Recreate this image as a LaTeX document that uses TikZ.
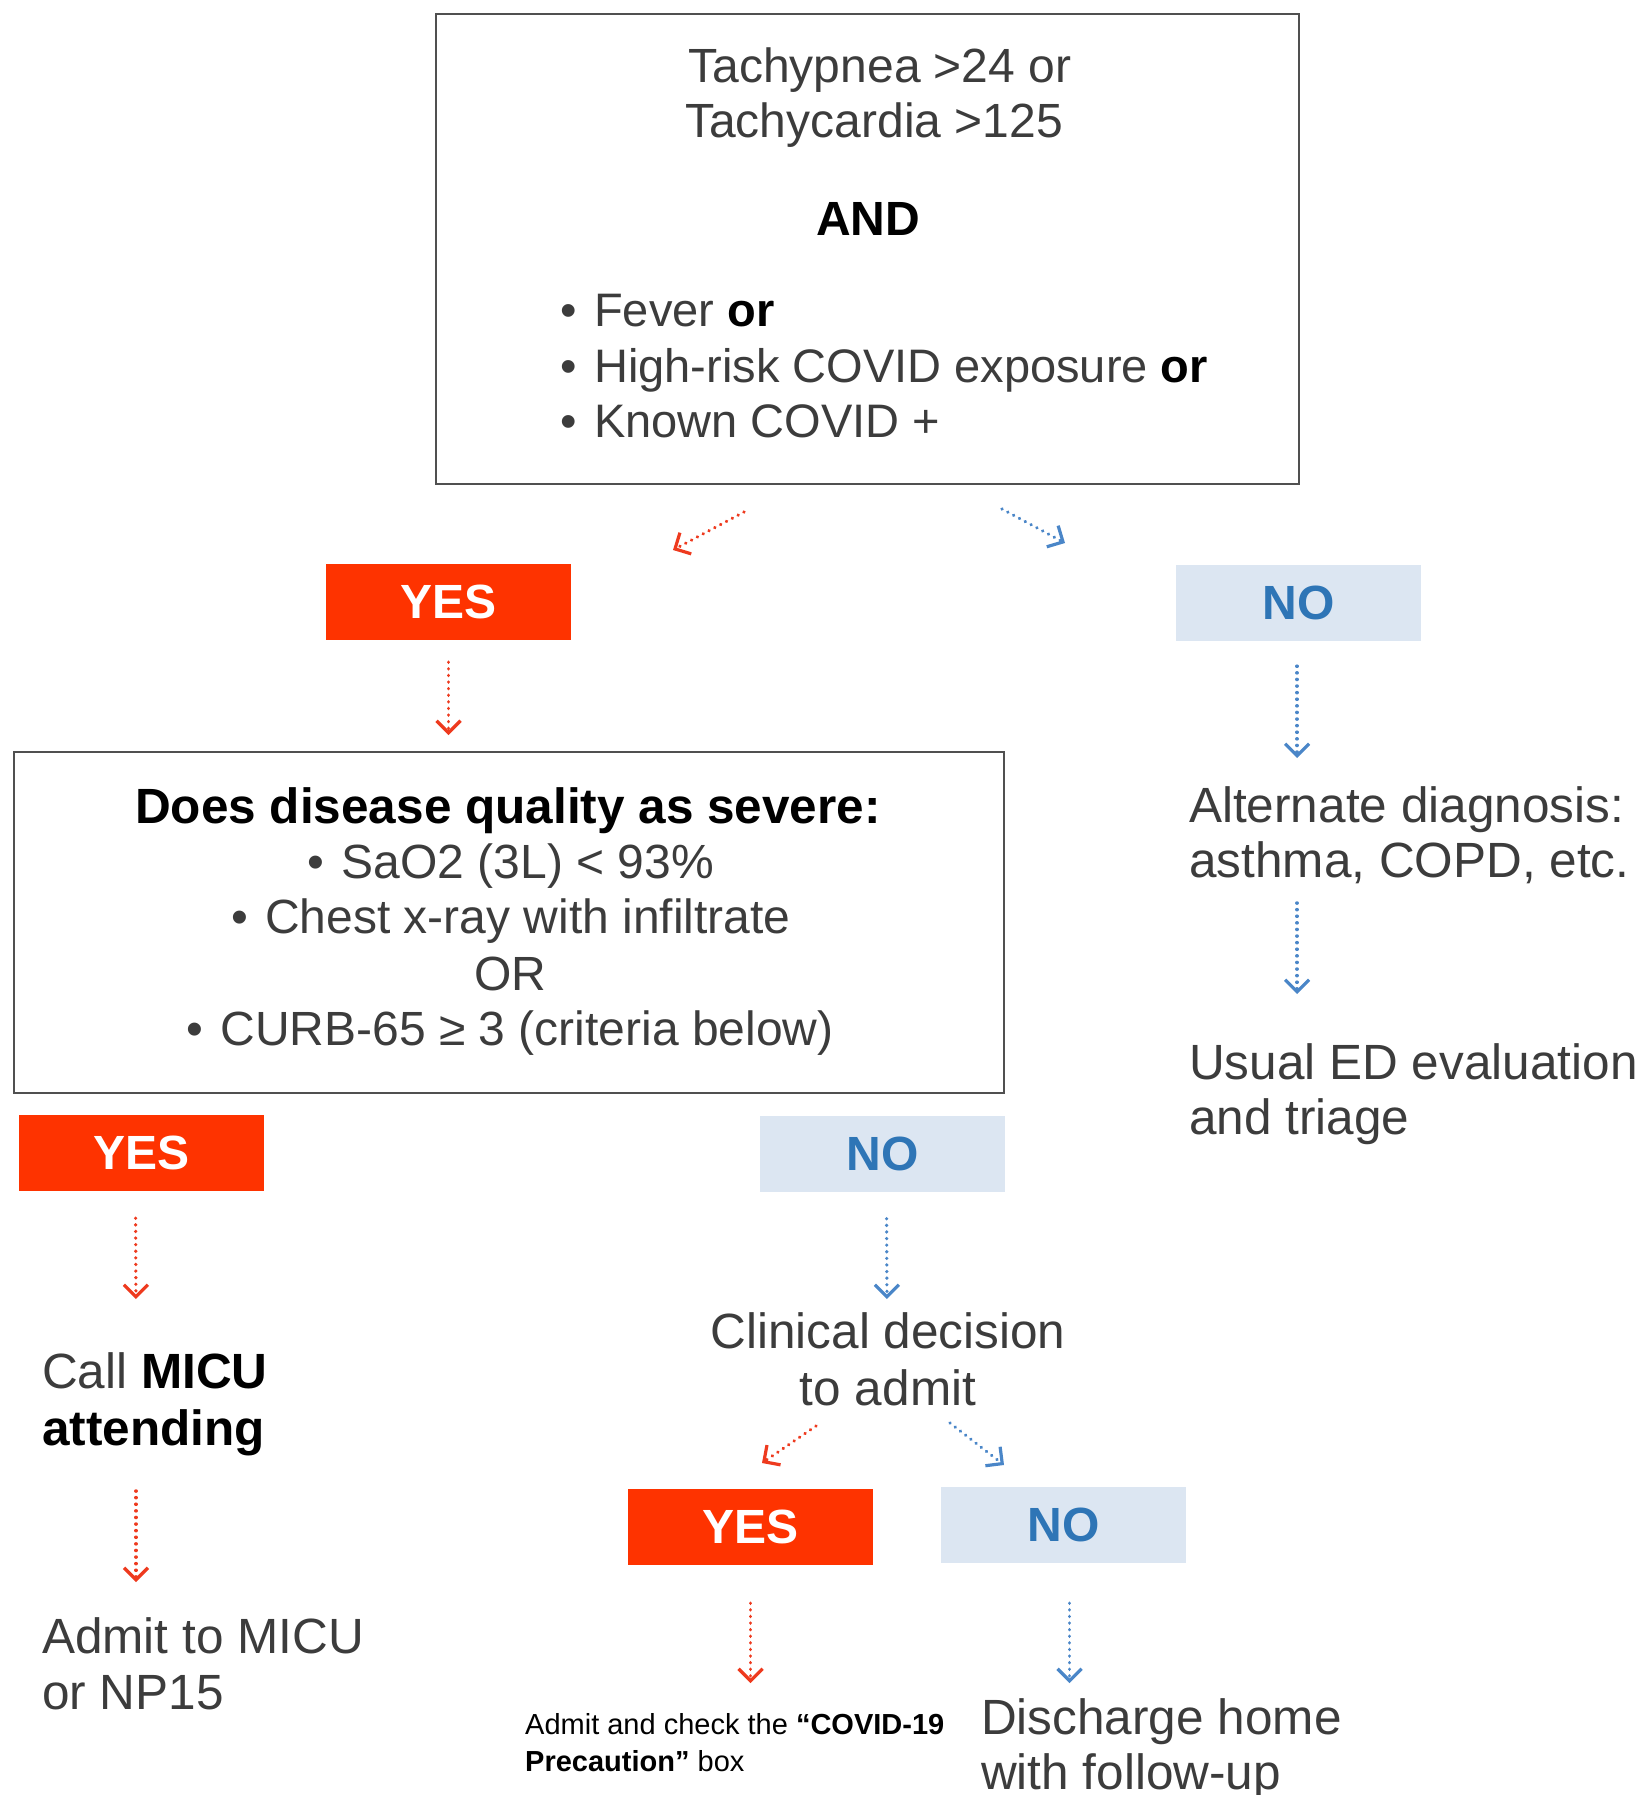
\documentclass[tikz,border=0pt]{standalone}
\usepackage{fontspec}
\setmainfont{Liberation Sans}
\usetikzlibrary{arrows.meta}
\definecolor{yesred}{HTML}{FE3300}
\definecolor{nofill}{HTML}{DCE6F2}
\definecolor{noblue}{HTML}{2E75B6}
\definecolor{txtgray}{HTML}{3C3C3C}
\definecolor{boxgray}{HTML}{505050}
\definecolor{arrred}{HTML}{EE3A1E}
\definecolor{arrblue}{HTML}{4A86C8}
\tikzset{
  big/.style={font=\fontsize{49.5}{56}\selectfont},
  yesbox/.style={fill=yesred, text=white, font=\fontsize{48}{56}\selectfont\bfseries, minimum width=245pt, minimum height=76pt, inner sep=0pt},
  nobox/.style={fill=nofill, text=noblue, font=\fontsize{48}{56}\selectfont\bfseries, minimum width=245pt, minimum height=76pt, inner sep=0pt},
  frame/.style={draw=boxgray, line width=2pt, inner sep=0pt},
  txt/.style={text=txtgray, big, inner sep=0pt, anchor=base},
  txtl/.style={txt, anchor=base west},
  toptxt/.style={txt, font=\fontsize{48}{56}\selectfont},
  toplist/.style={txtl, font=\fontsize{47}{56}\selectfont},
  bld/.style={text=black, font=\fontsize{49.5}{56}\selectfont\bfseries, inner sep=0pt, anchor=base},
  small/.style={text=black, font=\fontsize{29}{37}\selectfont, inner sep=0pt, anchor=base west},
  arr/.style={line width=3.5pt, line cap=round, dash pattern=on 0.1pt off 6.5pt, -{Straight Barb[length=12pt,width=24pt,line width=3.2pt]}},
  redarr/.style={arr, draw=arrred},
  bluearr/.style={arr, draw=arrblue},
}
\newcommand{\bul}{\makebox[34pt][l]{\textbullet}}
\begin{document}
\begin{tikzpicture}[x=1pt,y=-1pt]
\useasboundingbox (0,0) rectangle (1644,1795);
\fill[white] (0,0) rectangle (1644,1795);

% top box
\node[frame, minimum width=863pt, minimum height=470pt] (top) at (867.5,249) {};
\node[toptxt] (t1) at (880,83) {Tachypnea >24 or};
\node[toptxt] (t2) at (874,138) {Tachycardia >125};
\node[bld, font=\fontsize{48}{56}\selectfont\bfseries] (tand) at (868,236) {AND};
\node[toplist] (b1) at (560,326) {\bul Fever {\color{black}\bfseries or}};
\node[toplist] (b2) at (560,382) {\bul High-risk COVID exposure {\color{black}\bfseries or}};
\node[toplist] (b3) at (560,437) {\bul Known COVID +};

% first decision
\node[yesbox] (yes1) at (448.5,602) {YES};
\node[nobox] (no1) at (1298.5,603) {NO};

% severity box
\node[frame, minimum width=990pt, minimum height=341pt] (sev) at (509,922.5) {};
\node[bld] (s0) at (508,823) {Does disease quality as severe:};
\node[txt, font=\fontsize{48}{56}\selectfont] (s1) at (511,878) {\bul SaO2 (3L) < 93\%};
\node[txt, font=\fontsize{48}{56}\selectfont] (s2) at (511,933) {\bul Chest x-ray with infiltrate};
\node[txt, font=\fontsize{48}{56}\selectfont] (s3) at (510,990) {OR};
\node[txt, font=\fontsize{48}{56}\selectfont] (s4) at (510,1045) {\bul CURB-65 ≥ 3 (criteria below)};

% right column
\node[txtl] (alt1) at (1189,822) {Alternate diagnosis:};
\node[txtl] (alt2) at (1189,877) {asthma, COPD, etc.};
\node[txtl] (usu1) at (1189,1079) {Usual ED evaluation};
\node[txtl] (usu2) at (1189,1134) {and triage};

% second decision
\node[yesbox] (yes2) at (141.5,1153) {YES};
\node[nobox] (no2) at (882.5,1153.5) {NO};

% left column
\node[txtl] (call1) at (42,1388) {Call {\color{black}\bfseries MICU}};
\node[bld, anchor=base west] (call2) at (42,1445) {attending};
\node[txtl] (adm1) at (42,1653) {Admit to MICU};
\node[txtl] (adm2) at (42,1709) {or NP15};

% middle column
\node[txt] (cd1) at (888,1348) {Clinical decision};
\node[txt] (cd2) at (888,1405) {to admit};
\node[yesbox] (yes3) at (750.5,1527) {YES};
\node[nobox] (no3) at (1063.5,1525) {NO};
\node[small] (ad1) at (525,1734) {Admit and check the {\bfseries “COVID-19}};
\node[small] (ad2) at (525,1771) {{\bfseries Precaution”} box};
\node[txtl] (dis1) at (981,1734) {Discharge home};
\node[txtl] (dis2) at (981,1789) {with follow-up};

% connectors
\coordinate (c1s) at (744,512); \coordinate (c1e) at (673,550);
\coordinate (c2s) at (1002,509); \coordinate (c2e) at (1065,543);
\coordinate (c3s) at (816,1426); \coordinate (c3e) at (762,1463);
\coordinate (c4s) at (950,1423); \coordinate (c4e) at (1004,1465);
\draw[redarr] (c1s) -- (c1e);
\draw[bluearr] (c2s) -- (c2e);
\draw[redarr, shorten <=22pt, shorten >=16pt] (yes1.south) -- (yes1.south |- sev.north);
\draw[bluearr, shorten <=25pt] ([xshift=-1.5pt]no1.south) -- (1297,758);
\draw[bluearr] (1297,903) -- (1297,994);
\draw[redarr, shorten <=27pt, shorten >=10pt] ([xshift=-6pt]yes2.south) -- (136,1309);
\draw[redarr] (136,1491) -- (136,1582);
\draw[bluearr, shorten <=27pt, shorten >=10pt] ([xshift=4pt]no2.south) -- (887,1309);
\draw[redarr] (c3s) -- (c3e);
\draw[bluearr] (c4s) -- (c4e);
\draw[redarr, shorten <=38pt] (yes3.south) -- (750.5,1683);
\draw[bluearr, shorten <=40pt] ([xshift=6pt]no3.south) -- (1069.5,1683);
\end{tikzpicture}
\end{document}
